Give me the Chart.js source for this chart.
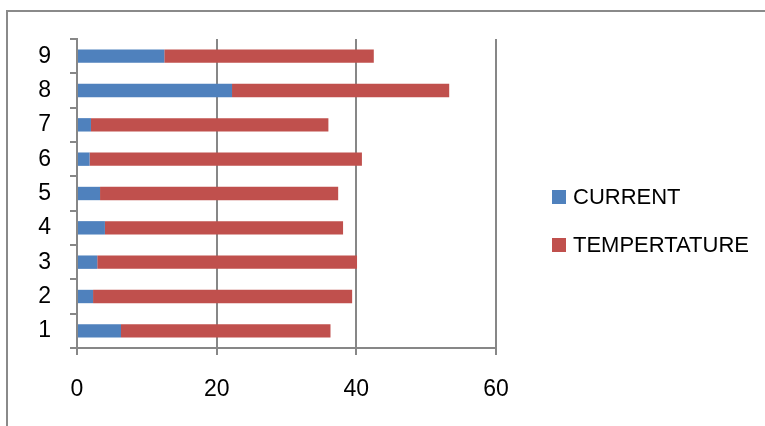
<!DOCTYPE html>
<html>
<head>
<meta charset="utf-8">
<script src="https://cdn.jsdelivr.net/npm/chart.js@4/dist/chart.umd.min.js"></script>
<style>
  html, body { margin: 0; padding: 0; background: #fff; }
  #wrap { width: 765px; height: 426px; }
</style>
</head>
<body>
<div id="wrap"><canvas id="c" width="765" height="426"></canvas></div>
<script>
// Row labels, bottom to top
const categories = ['1', '2', '3', '4', '5', '6', '7', '8', '9'];
// Series values per row
const currentValues = [6.3, 2.3, 2.9, 4.0, 3.3, 1.8, 2.0, 22.2, 12.5];
const temperatureValues = [30.0, 37.1, 37.2, 34.1, 34.1, 39.0, 34.0, 31.1, 30.0];
// Value axis ticks
const xTicks = [0, 20, 40, 60];

const FONT = '"Liberation Sans", Arial, sans-serif';
const AXIS_GREY = '#878787';

// Frame around the chart: a top rule and a left rule
const framePlugin = {
  id: 'frame',
  beforeDraw(chart) {
    const ctx = chart.ctx;
    ctx.save();
    ctx.fillStyle = '#ffffff';
    ctx.fillRect(0, 0, chart.width, chart.height);
    ctx.strokeStyle = '#8a8a8a';
    ctx.lineWidth = 2;
    ctx.beginPath();
    ctx.moveTo(7, chart.height);
    ctx.lineTo(7, 11);
    ctx.lineTo(chart.width, 11);
    ctx.stroke();
    ctx.restore();
  }
};

// Legend to the right of the plot, one entry per dataset
const sideLegend = {
  id: 'sideLegend',
  afterDraw(chart) {
    const ctx = chart.ctx;
    ctx.save();
    ctx.font = '22px ' + FONT;
    ctx.textBaseline = 'middle';
    ctx.textAlign = 'left';
    chart.data.datasets.forEach((ds, i) => {
      const cy = 197 + i * 48;
      ctx.fillStyle = ds.backgroundColor;
      ctx.fillRect(552, cy - 7, 14, 14);
      ctx.fillStyle = '#000000';
      ctx.fillText(ds.label, 573, cy + 1);
    });
    ctx.restore();
  }
};

new Chart(document.getElementById('c'), {
  type: 'bar',
  data: {
    labels: categories,
    datasets: [
      { label: 'CURRENT', data: currentValues, backgroundColor: '#4F81BD', borderWidth: 0 },
      { label: 'TEMPERTATURE', data: temperatureValues, backgroundColor: '#C0504D', borderWidth: 0 }
    ]
  },
  options: {
    indexAxis: 'y',
    responsive: false,
    animation: false,
    layout: { padding: { top: 39, right: 269, bottom: 0, left: 0 } },
    categoryPercentage: 1.0,
    barPercentage: 0.39,
    plugins: {
      legend: { display: false },
      tooltip: { enabled: false }
    },
    scales: {
      x: {
        stacked: true,
        min: 0,
        max: 60,
        afterBuildTicks(scale) { scale.ticks = xTicks.map(v => ({ value: v })); },
        afterFit(scale) { scale.height = 78; },
        grid: { color: AXIS_GREY, lineWidth: 2, tickLength: 7, tickColor: AXIS_GREY },
        border: { display: true, color: AXIS_GREY, width: 2 },
        ticks: { color: '#000', font: { family: FONT, size: 23 }, padding: 21 }
      },
      y: {
        stacked: true,
        reverse: true,
        offset: true,
        afterFit(scale) { scale.width = 77; },
        grid: { offset: true, drawOnChartArea: false, color: AXIS_GREY, lineWidth: 2, tickLength: 7 },
        border: { display: true, color: AXIS_GREY, width: 2 },
        ticks: { color: '#000', font: { family: FONT, size: 23 }, padding: 19 }
      }
    }
  },
  plugins: [framePlugin, sideLegend]
});
</script>
</body>
</html>
